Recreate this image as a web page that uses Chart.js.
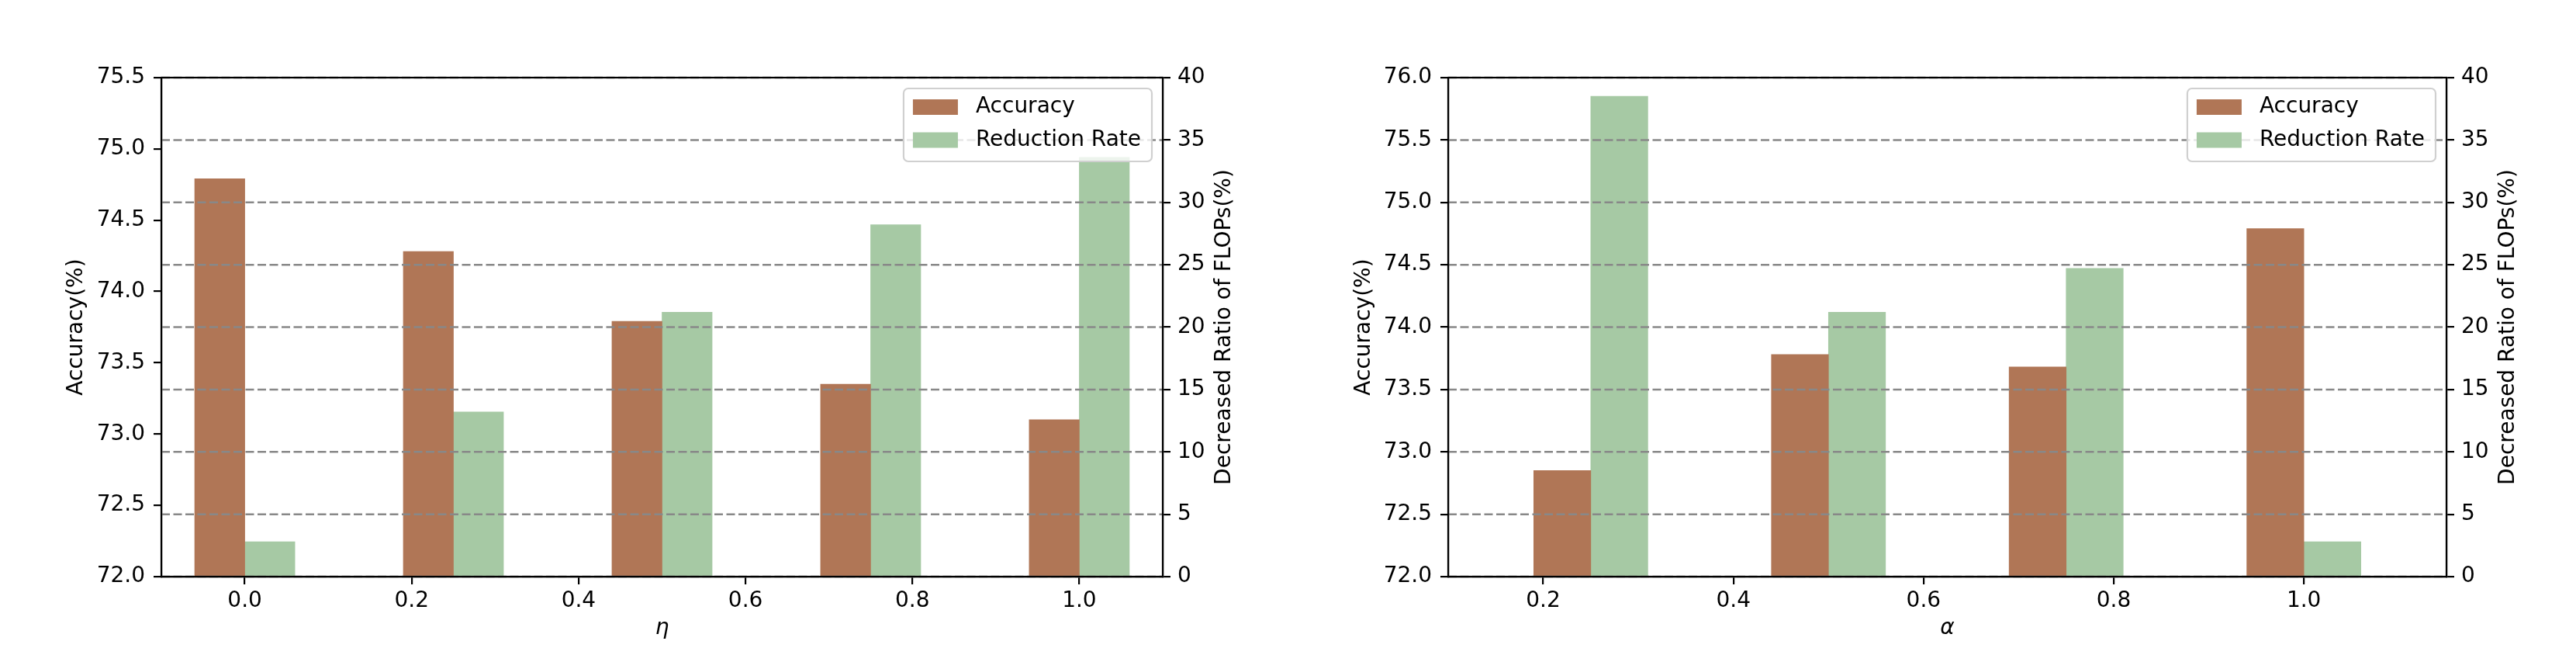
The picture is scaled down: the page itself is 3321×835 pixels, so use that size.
<!DOCTYPE html>
<html>
<head>
<meta charset="utf-8">
<script src="https://cdn.jsdelivr.net/npm/chart.js@4.4.1/dist/chart.umd.min.js"></script>
<style>
  body { margin: 0; background: #fff; }
  #wrap { position: relative; width: 3321px; height: 835px; }
  canvas { position: absolute; top: 0; }
</style>
</head>
<body>
<div id="wrap">
  <canvas id="etaChart" width="1660" height="835" style="left:0"></canvas>
  <canvas id="alphaChart" width="1661" height="835" style="left:1660px"></canvas>
</div>
<script>
// eta sweep (left panel)
const etaX = [0.0, 0.25, 0.5, 0.75, 1.0];
const etaAcc = [74.79, 74.28, 73.79, 73.35, 73.10];
const etaRed = [2.8, 13.2, 21.2, 28.2, 33.6];
const etaTicks = [0.0, 0.2, 0.4, 0.6, 0.8, 1.0];

// alpha sweep (right panel)
const alphaX = [0.25, 0.5, 0.75, 1.0];
const alphaAcc = [72.85, 73.78, 73.68, 74.79];
const alphaRed = [38.5, 21.2, 24.7, 2.8];
const alphaTicks = [0.2, 0.4, 0.6, 0.8, 1.0];

const ACC_COLOR = '#b07656';
const RED_COLOR = '#a6c9a4';
const BAR_W = 0.06; // bar width in x units, like matplotlib width=0.06
const FONT = 'DejaVu Sans';

Chart.defaults.font.family = FONT;
Chart.defaults.font.size = 28;
Chart.defaults.color = '#000';

const barPx = c => c.scales.x.getPixelForValue(BAR_W) - c.scales.x.getPixelForValue(0);

// dashed grid from right axis, legend box, top spine, right-axis title
const overlay = {
  id: 'overlay',
  afterDatasetsDraw(chart) {
    const {ctx, chartArea: a} = chart;
    const s = chart.scales.y1;
    ctx.save();
    ctx.strokeStyle = '#888';
    ctx.lineWidth = 2.5;
    ctx.setLineDash([11, 4.5]);
    s.ticks.forEach(t => {
      const y = s.getPixelForValue(t.value);
      ctx.beginPath();
      ctx.moveTo(a.left, y);
      ctx.lineTo(a.right, y);
      ctx.stroke();
    });
    ctx.restore();
  },
  afterDraw(chart, args, opts) {
    const {ctx, chartArea: a} = chart;
    ctx.save();
    // legend
    ctx.font = '28px "' + FONT + '"';
    const items = chart.data.datasets;
    const textW = Math.max(...items.map(d => ctx.measureText(d.label).width));
    const w = 93 + textW + 14, h = 94;
    const x0 = a.right - 14 - w, y0 = a.top + 14;
    ctx.beginPath();
    ctx.roundRect(x0, y0, w, h, 6);
    ctx.fillStyle = 'rgba(255,255,255,0.8)';
    ctx.fill();
    ctx.strokeStyle = '#d0d0d0';
    ctx.lineWidth = 2.2;
    ctx.stroke();
    ctx.textBaseline = 'middle';
    ctx.textAlign = 'left';
    items.forEach((d, i) => {
      const cy = y0 + 24 + i * 42.5;
      ctx.fillStyle = d.backgroundColor;
      ctx.fillRect(x0 + 12, cy - 10, 58, 20);
      ctx.fillStyle = '#000';
      ctx.fillText(d.label, x0 + 93, cy);
    });
    // frame
    ctx.strokeStyle = '#000';
    ctx.lineWidth = 2.2;
    ctx.strokeRect(a.left, a.top, a.right - a.left, a.bottom - a.top);
    // right axis title, reads bottom to top
    ctx.translate(a.right + 80, (a.top + a.bottom) / 2);
    ctx.rotate(-Math.PI / 2);
    ctx.textAlign = 'center';
    ctx.fillText(opts.rightTitle, 0, 0);
    ctx.restore();
  }
};

const axisLine = {
  grid: { drawOnChartArea: false, drawTicks: true, tickLength: 10, color: '#000', lineWidth: 2.2 },
  border: { display: true, color: '#000', width: 2.2 }
};

function makeChart(id, xs, acc, red, ticks, xMin, xMax, yMax, xTitle, leftW, rightW) {
  const canvas = document.getElementById(id);
  return new Chart(canvas, {
    type: 'bar',
    data: {
      datasets: [
        {
          label: 'Accuracy',
          data: xs.map((x, i) => ({x: x, y: acc[i]})),
          backgroundColor: ACC_COLOR,
          yAxisID: 'y',
          barThickness: c => barPx(c.chart)
        },
        {
          label: 'Reduction Rate',
          data: xs.map((x, i) => ({x: x, y: red[i]})),
          backgroundColor: RED_COLOR,
          yAxisID: 'y1',
          barThickness: c => barPx(c.chart)
        }
      ]
    },
    options: {
      responsive: false,
      animation: false,
      devicePixelRatio: 1,
      layout: { padding: { top: 100, left: 0, right: 0, bottom: 0 } },
      plugins: {
        legend: { display: false },
        tooltip: { enabled: false },
        overlay: { rightTitle: 'Decreased Ratio of FLOPs(%)' }
      },
      scales: {
        x: {
          type: 'linear',
          min: xMin,
          max: xMax,
          offset: false,
          ...axisLine,
          grid: { ...axisLine.grid, offset: false },
          afterBuildTicks: s => { s.ticks = ticks.map(v => ({value: v})); },
          afterFit: s => { s.height = 92; },
          ticks: { autoSkip: false, maxRotation: 0, padding: 5, callback: v => v.toFixed(1) },
          title: { display: true, text: xTitle, font: { style: 'italic', size: 28 }, padding: { top: 0, bottom: 8 } }
        },
        y: {
          position: 'left',
          min: 72,
          max: yMax,
          ...axisLine,
          afterFit: s => { s.width = leftW; },
          ticks: { stepSize: 0.5, padding: 11, callback: v => v.toFixed(1) },
          title: { display: true, text: 'Accuracy(%)', padding: { top: 82, bottom: 0 } }
        },
        y1: {
          position: 'right',
          min: 0,
          max: 40,
          ...axisLine,
          afterFit: s => { s.width = rightW; },
          ticks: { stepSize: 5, padding: 9 }
        }
      }
    },
    plugins: [overlay]
  });
}

makeChart('etaChart', etaX, etaAcc, etaRed, etaTicks, -0.1, 1.1, 75.5, 'η', 208, 161);
makeChart('alphaChart', alphaX, alphaAcc, alphaRed, alphaTicks, 0.1, 1.15, 76.0, 'α', 207, 167);
</script>
</body>
</html>
